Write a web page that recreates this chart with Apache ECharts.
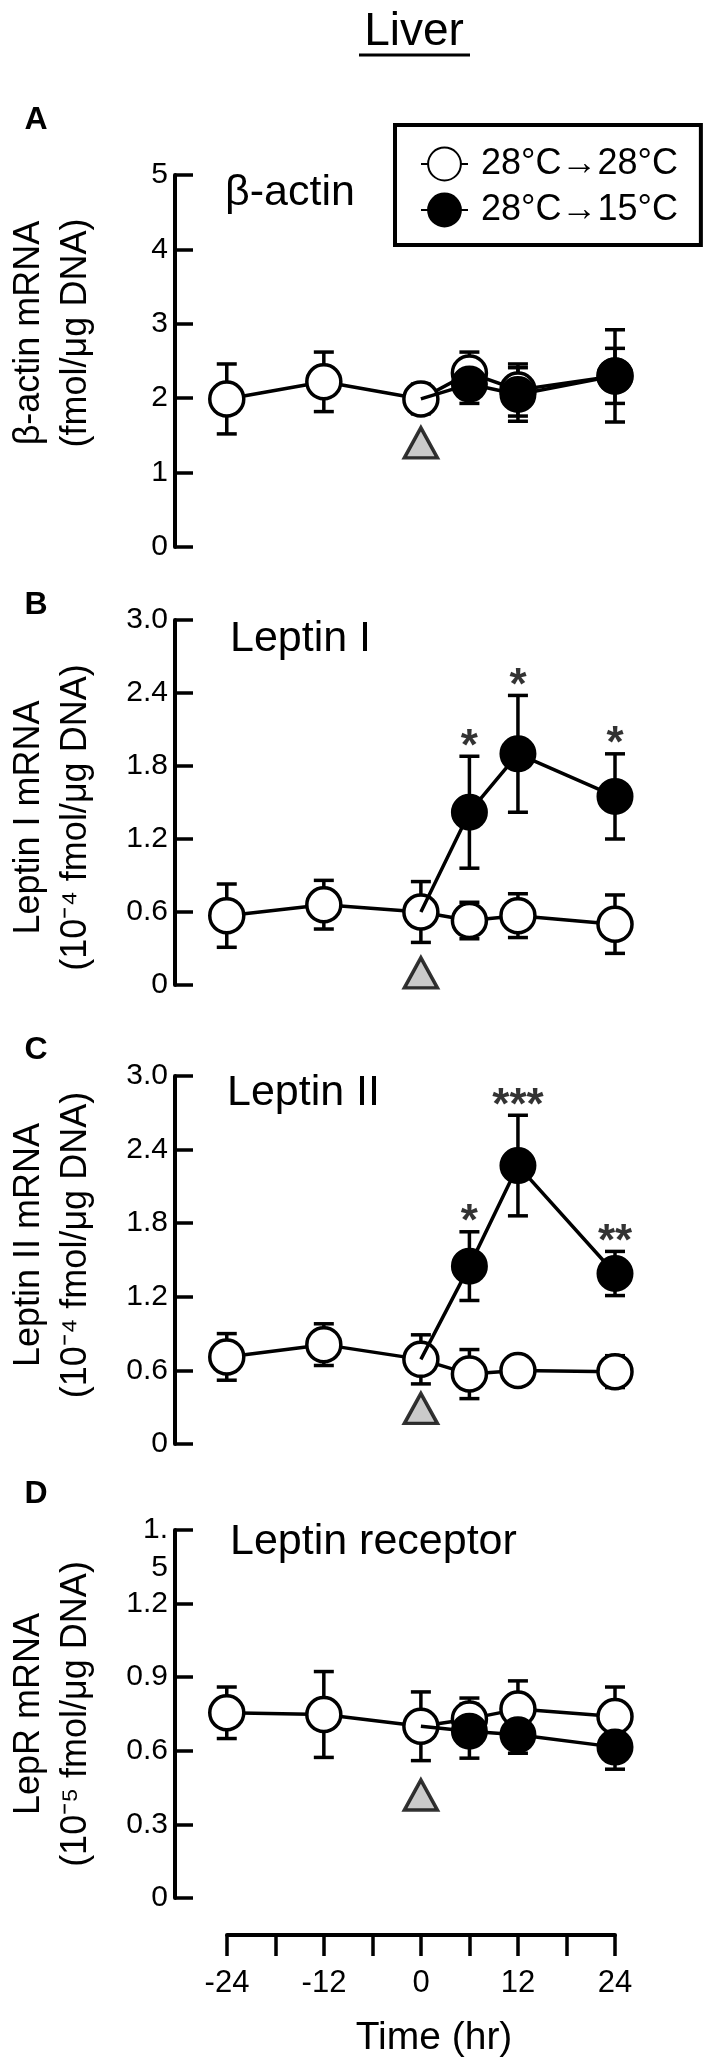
<!DOCTYPE html>
<html>
<head>
<meta charset="utf-8">
<script src="https://cdn.jsdelivr.net/npm/echarts@6/dist/echarts.min.js"></script>
<style>
html,body{margin:0;padding:0;background:#fff;}
#chart{width:709px;height:2071px;}
</style>
</head>
<body>
<div id="chart"></div>
<script>
// time points (hr)
var times = [-24, -12, 0, 6, 12, 24];
var coldTimes = [6, 12, 24];
var timeTicks = [-24, -12, 0, 12, 24];

// A: beta-actin
var actinWarm = [1.99, 2.22, 1.99, 2.34, 2.11, 2.30];
var actinWarmErr = [0.47, 0.40, 0.20, 0.28, 0.35, 0.37];
var actinCold = [2.19, 2.05, 2.30];
var actinColdErr = [0.26, 0.36, 0.62];

// B: leptin I
var lepIWarm = [0.57, 0.66, 0.60, 0.53, 0.57, 0.50];
var lepIWarmErr = [0.26, 0.20, 0.25, 0.15, 0.18, 0.24];
var lepICold = [1.42, 1.90, 1.55];
var lepIColdErr = [0.46, 0.48, 0.35];
var lepIStars = ['*', '*', '*'];

// C: leptin II
var lepIIWarm = [0.71, 0.81, 0.69, 0.57, 0.60, 0.59];
var lepIIWarmErr = [0.19, 0.17, 0.20, 0.20, 0.10, 0.13];
var lepIICold = [1.45, 2.27, 1.39];
var lepIIColdErr = [0.28, 0.41, 0.18];
var lepIIStars = ['*', '***', '**'];

// D: leptin receptor
var leprWarm = [0.755, 0.748, 0.70, 0.73, 0.77, 0.74];
var leprWarmErr = [0.105, 0.175, 0.14, 0.085, 0.115, 0.12];
var leprCold = [0.68, 0.665, 0.615];
var leprColdErr = [0.11, 0.075, 0.09];

// grey triangle (temperature shift) height in each panel
var shiftMark = [1.40, 0.10, 0.29, 0.42];

var warmName = '28°C→28°C';
var coldName = '28°C→15°C';
var sans = "'Liberation Sans', Arial, sans-serif";

var panels = [
    {letter:'A', title:'β-actin', yName:'β-actin mRNA\n(fmol/μg DNA)', namePad:[0,0,0,56],
     top:175, height:372, max:5, interval:1, warm:actinWarm, warmErr:actinWarmErr, cold:actinCold, coldErr:actinColdErr, stars:null,
     letterY:120, titleX:225, titleY:193},
    {letter:'B', title:'Leptin I', yName:'Leptin I mRNA\n(10⁻⁴ fmol/μg DNA)', namePad:[0,30,0,0],
     top:620, height:365, max:3, interval:0.6, warm:lepIWarm, warmErr:lepIWarmErr, cold:lepICold, coldErr:lepIColdErr, stars:lepIStars,
     letterY:605, titleX:230, titleY:639},
    {letter:'C', title:'Leptin II', yName:'Leptin II mRNA\n(10⁻⁴ fmol/μg DNA)', namePad:[0,0,0,30],
     top:1076, height:368, max:3, interval:0.6, warm:lepIIWarm, warmErr:lepIIWarmErr, cold:lepIICold, coldErr:lepIIColdErr, stars:lepIIStars,
     letterY:1050, titleX:227, titleY:1093},
    {letter:'D', title:'Leptin receptor', yName:'LepR mRNA\n(10⁻⁵ fmol/μg DNA)', namePad:[0,0,0,0],
     top:1530, height:368, max:1.5, interval:0.3, warm:leprWarm, warmErr:leprWarmErr, cold:leprCold, coldErr:leprColdErr, stars:null,
     letterY:1494, titleX:230, titleY:1542}
];

function errBar(params, api) {
    var lo = api.coord([api.value(0), api.value(1)]);
    var hi = api.coord([api.value(0), api.value(2)]);
    var w = 10;
    var st = {stroke:'#000', lineWidth:3.5};
    return {type:'group', children:[
        {type:'line', shape:{x1:hi[0], y1:hi[1], x2:lo[0], y2:lo[1]}, style:st},
        {type:'line', shape:{x1:hi[0]-w, y1:hi[1], x2:hi[0]+w, y2:hi[1]}, style:st},
        {type:'line', shape:{x1:lo[0]-w, y1:lo[1], x2:lo[0]+w, y2:lo[1]}, style:st}
    ]};
}

function yLabel(max) {
    return function (v) {
        if (v === 0) return '{n|0}';
        if (max === 5) return '{n|' + v + '}';
        if (Math.abs(v - 1.5) < 1e-6) return '\n1.\n5';   // wrapped label as in the original
        return '{n|' + v.toFixed(1) + '}';
    };
}

var grids = [], xAxes = [], yAxes = [], series = [], graphics = [];

for (var p = 0; p < panels.length; p++) {
    var P = panels[p];
    grids.push({left:175, right:94, top:P.top, height:P.height, outerBoundsMode:'none'});
    xAxes.push({type:'value', gridIndex:p, min:-30.4, max:24, show:false});
    yAxes.push({
        type:'value', gridIndex:p, min:0, max:P.max, interval:P.interval,
        name:P.yName, nameLocation:'middle', nameGap:75, nameRotate:90,
        nameTextStyle:{fontFamily:sans, fontSize:36, lineHeight:47, color:'#000', padding:P.namePad},
        axisLine:{show:true, onZero:false, lineStyle:{color:'#000', width:4}},
        axisTick:{show:true, inside:true, length:18, lineStyle:{color:'#000', width:3.5}},
        axisLabel:{color:'#000', fontFamily:sans, fontSize:30, margin:7, lineHeight:38, hideOverlap:false, showMaxLabel:true,
            formatter:yLabel(P.max),
            rich:{n:{fontFamily:sans, fontSize:30, color:'#000', lineHeight:30}}},
        splitLine:{show:false}
    });

    var warmBars = [], coldBars = [], warmPts = [], coldPts = [];
    for (var i = 0; i < times.length; i++) {
        warmBars.push([times[i], P.warm[i] - P.warmErr[i], P.warm[i] + P.warmErr[i]]);
        warmPts.push([times[i], P.warm[i]]);
    }
    // cold line starts from the shared 0 h point
    coldPts.push({value:[0, P.warm[2]], symbol:'none'});
    for (var j = 0; j < coldTimes.length; j++) {
        coldBars.push([coldTimes[j], P.cold[j] - P.coldErr[j], P.cold[j] + P.coldErr[j]]);
        coldPts.push([coldTimes[j], P.cold[j]]);
    }

    series.push({type:'custom', xAxisIndex:p, yAxisIndex:p, renderItem:errBar, data:warmBars, encode:{x:0, y:[1,2]}, z:1, silent:true});
    series.push({type:'custom', xAxisIndex:p, yAxisIndex:p, renderItem:errBar, data:coldBars, encode:{x:0, y:[1,2]}, z:1, silent:true});
    series.push({
        type:'line', name:warmName, xAxisIndex:p, yAxisIndex:p, data:warmPts,
        symbol:'circle', symbolSize:34, z:3,
        itemStyle:{color:'#fff', borderColor:'#000', borderWidth:3.5},
        lineStyle:{color:'#000', width:3.5}
    });
    series.push({
        type:'line', name:coldName, xAxisIndex:p, yAxisIndex:p, data:coldPts,
        symbol:'circle', symbolSize:34, z:4,
        itemStyle:{color:'#000', borderColor:'#000', borderWidth:3},
        lineStyle:{color:'#000', width:3.5}
    });
    series.push({
        type:'scatter', xAxisIndex:p, yAxisIndex:p, data:[[0, shiftMark[p]]],
        symbol:'triangle', symbolSize:[33, 30], z:5,
        itemStyle:{color:'#bdbdbd', borderColor:'#000', borderWidth:3.5}
    });
    if (P.stars) {
        var starData = [];
        for (var k = 0; k < coldTimes.length; k++) {
            starData.push({name:P.stars[k], value:[coldTimes[k], P.cold[k] + P.coldErr[k]]});
        }
        series.push({
            type:'scatter', xAxisIndex:p, yAxisIndex:p, data:starData, symbolSize:1, z:5,
            itemStyle:{color:'rgba(0,0,0,0)'},
            label:{show:true, position:'top', distance:-14, formatter:'{b}', color:'#000', fontFamily:sans, fontWeight:'bold', fontSize:44}
        });
    }

    graphics.push({type:'text', x:36, y:P.letterY, style:{text:P.letter, fontFamily:sans, fontWeight:'bold', fontSize:32, fill:'#000', textAlign:'center', textVerticalAlign:'middle'}});
    graphics.push({type:'text', x:P.titleX, y:P.titleY, style:{text:P.title, fontFamily:sans, fontSize:43, fill:'#000', textAlign:'left', textVerticalAlign:'middle'}});
}

// shared time axis under the last panel
grids.push({left:227, right:94, top:1896, height:39, outerBoundsMode:'none'});
xAxes.push({
    type:'value', gridIndex:4, min:-24, max:24, interval:6,
    name:'Time (hr)', nameLocation:'middle', nameGap:84,
    nameTextStyle:{fontFamily:sans, fontSize:39, color:'#000', padding:[0, 0, 0, 26]},
    axisLine:{show:true, onZero:false, lineStyle:{color:'#000', width:4}},
    axisTick:{show:true, inside:false, length:21, lineStyle:{color:'#000', width:3.5}},
    axisLabel:{color:'#000', fontFamily:sans, fontSize:31, margin:33,
        formatter:function (v) { return timeTicks.indexOf(v) >= 0 ? String(v) : ''; }},
    splitLine:{show:false}
});
yAxes.push({type:'value', gridIndex:4, min:0, max:1, show:false});

graphics.push({type:'text', x:414, y:32, style:{text:'Liver', fontFamily:sans, fontSize:46, fill:'#000', textAlign:'center', textVerticalAlign:'middle'}});
graphics.push({type:'line', shape:{x1:359, y1:55, x2:470, y2:55}, style:{stroke:'#000', lineWidth:3}});

var chart = echarts.init(document.getElementById('chart'), null, {renderer:'canvas'});
chart.setOption({
    backgroundColor:'#fff',
    animation:false,
    legend:{
        data:[warmName, coldName], orient:'vertical', left:395, top:125,
        itemWidth:47, itemHeight:41, itemGap:10, padding:[21, 23, 17, 25],
        borderColor:'#000', borderWidth:4, backgroundColor:'#fff', selectedMode:false,
        textStyle:{fontFamily:sans, fontSize:36, color:'#000', padding:[0, 0, 0, 8]}
    },
    grid:grids,
    xAxis:xAxes,
    yAxis:yAxes,
    series:series,
    graphic:graphics
});
</script>
</body>
</html>
